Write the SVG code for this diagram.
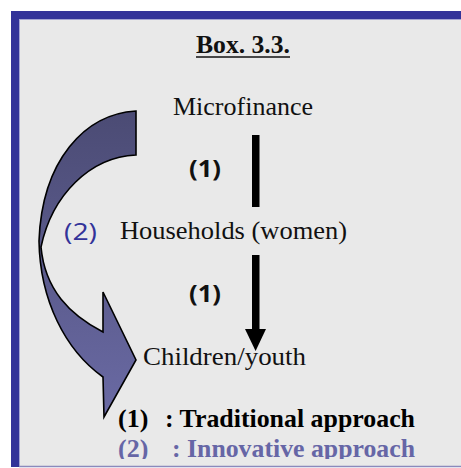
<svg xmlns="http://www.w3.org/2000/svg" width="461" height="468" viewBox="0 0 461 468">
  <style>
    .node { font-family: "Liberation Serif", "Times New Roman", serif; font-size: 26px; fill: #111; }
    .lbl1 { font-family: "Open Sans", "Liberation Sans", sans-serif; font-size: 23px; font-weight: bold; fill: #111; }
    .lbl2 { font-family: "Open Sans", "Liberation Sans", sans-serif; font-size: 23px; fill: #333399; }
    .legend { font-family: "Liberation Serif", "Times New Roman", serif; font-size: 26px; font-weight: bold; }
    .bar { fill: #000; }
  </style>
  <defs>
    <linearGradient id="curveFill" x1="0" y1="111" x2="0" y2="417" gradientUnits="userSpaceOnUse">
      <stop offset="0" stop-color="#4b4b74"/>
      <stop offset="1" stop-color="#6a6aa4"/>
    </linearGradient>
    <clipPath id="inner">
      <rect x="19" y="19" width="442" height="440"/>
    </clipPath>
  </defs>

  <!-- frame -->
  <rect x="0" y="0" width="461" height="468" fill="#ffffff"/>
  <rect x="11" y="11" width="450" height="456" fill="#333399"/>
  <rect x="19" y="19" width="442" height="447" fill="#e9e9e9"/>
  <line x1="19" y1="19.5" x2="461" y2="19.5" stroke="#a6a6d2" stroke-width="1"/>
  <line x1="19.5" y1="19" x2="19.5" y2="466" stroke="#a6a6d2" stroke-width="1"/>
  <line x1="19" y1="466.5" x2="461" y2="466.5" stroke="#8a8abc" stroke-width="1.5"/>

  <!-- title -->
  <g id="title">
    <text x="196" y="53" class="node" font-weight="bold" font-size="27" textLength="94" lengthAdjust="spacingAndGlyphs">Box. 3.3.</text>
    <line x1="196" y1="57" x2="290" y2="57" stroke="#111" stroke-width="1.3"/>
  </g>

  <!-- connectors -->
  <g id="connectors">
    <path d="M136,111 C85,114 42,160 39,241 C40,300 65,350 103,377 L104,417 L136,360 L103,292 L103,332 C70,315 45,290 41,247 C52,195 90,157 136,155 Z" fill="url(#curveFill)" stroke="#000" stroke-width="1.6" stroke-linejoin="miter"/>
    <rect class="bar" x="252" y="135" width="7.5" height="72"/>
    <rect class="bar" x="252" y="255" width="7.5" height="76"/>
    <polygon class="bar" points="245,329 266,329 255.6,351"/>
    <text x="189" y="177" class="lbl1" textLength="32" lengthAdjust="spacingAndGlyphs">(1)</text>
    <text x="189" y="302" class="lbl1" textLength="32" lengthAdjust="spacingAndGlyphs">(1)</text>
    <text x="64" y="240" class="lbl2" textLength="33" lengthAdjust="spacingAndGlyphs">(2)</text>
  </g>

  <!-- nodes -->
  <g id="node-microfinance">
    <text x="173" y="115" class="node" textLength="140" lengthAdjust="spacingAndGlyphs">Microfinance</text>
  </g>
  <g id="node-households">
    <text x="120" y="239" class="node" textLength="227" lengthAdjust="spacingAndGlyphs">Households (women)</text>
  </g>
  <g id="node-children">
    <text x="143" y="365" class="node" textLength="163" lengthAdjust="spacingAndGlyphs">Children/youth</text>
  </g>

  <!-- legend -->
  <g id="legend" clip-path="url(#inner)">
    <text class="legend" y="427" fill="#000"><tspan x="118">(1)</tspan><tspan x="165" textLength="250" lengthAdjust="spacingAndGlyphs">: Traditional approach</tspan></text>
    <text class="legend" y="457" fill="#6666a6"><tspan x="118">(2)</tspan><tspan x="172" textLength="243" lengthAdjust="spacingAndGlyphs">: Innovative approach</tspan></text>
  </g>
</svg>
